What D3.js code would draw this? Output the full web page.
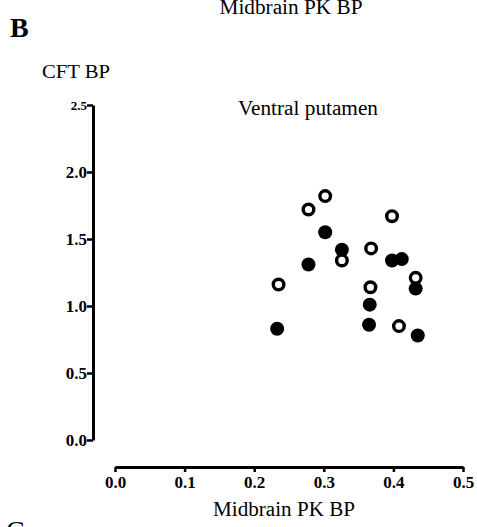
<!DOCTYPE html>
<html>
<head>
<meta charset="utf-8">
<script src="https://cdn.jsdelivr.net/npm/d3@7"></script>
<style>
  body { margin: 0; background: #fff; }
  svg { display: block; font-family: "Liberation Serif", "DejaVu Serif", serif; }
</style>
</head>
<body>
<svg id="chart" width="477" height="527"></svg>
<script>
// ventral putamen: midbrain PK BP vs CFT BP
const openPoints = [
  [0.302, 1.82], [0.278, 1.72], [0.398, 1.67], [0.368, 1.43], [0.326, 1.34],
  [0.235, 1.16], [0.432, 1.21], [0.367, 1.14], [0.408, 0.85]
]
const filledPoints = [
  [0.302, 1.55], [0.326, 1.42], [0.278, 1.31], [0.398, 1.34], [0.412, 1.35],
  [0.432, 1.13], [0.366, 1.01], [0.365, 0.86], [0.233, 0.83], [0.435, 0.78]
]
const xTicks = [0, 0.1, 0.2, 0.3, 0.4, 0.5]
const yTicks = [0, 0.5, 1.0, 1.5, 2.0, 2.5]

const svg = d3.select('#chart')

const x = d3.scaleLinear().domain([0, 0.5]).range([115, 463])
const y = d3.scaleLinear().domain([0, 2.5]).range([440, 105])
const yAxisX = 93
const xAxisY = 467

// axes
const yAxis = d3.axisLeft(y).tickValues(yTicks).tickFormat(d3.format('.1f'))
  .tickSizeInner(6).tickSizeOuter(0).tickPadding(0)
const xAxis = d3.axisBottom(x).tickValues(xTicks).tickFormat(d3.format('.1f'))
  .tickSizeInner(5).tickSizeOuter(0).tickPadding(4)

const gy = svg.append('g').attr('transform', `translate(${yAxisX},0)`).call(yAxis)
const gx = svg.append('g').attr('transform', `translate(0,${xAxisY})`).call(xAxis)

;[gy, gx].forEach((g) => {
  g.attr('font-size', null).attr('font-family', null)
  g.select('.domain').attr('stroke', '#000').attr('stroke-width', 3)
  g.selectAll('.tick line').attr('stroke', '#000').attr('stroke-width', 2.5)
  g.selectAll('.tick text')
    .attr('fill', '#000')
    .style('font-family', '"Liberation Serif", serif')
    .style('font-size', '17px')
    .style('font-weight', 'bold')
})
gy.selectAll('.tick text').filter((d) => d === 2.5).style('font-size', '13px')

// markers
svg.append('g').selectAll('circle.filled')
  .data(filledPoints)
  .join('circle')
  .attr('class', 'filled')
  .attr('cx', (d) => x(d[0]))
  .attr('cy', (d) => y(d[1]))
  .attr('r', 7)
  .attr('fill', '#000')

svg.append('g').selectAll('circle.open')
  .data(openPoints)
  .join('circle')
  .attr('class', 'open')
  .attr('cx', (d) => x(d[0]))
  .attr('cy', (d) => y(d[1]))
  .attr('r', 5.3)
  .attr('fill', '#fff')
  .attr('stroke', '#000')
  .attr('stroke-width', 3.4)

// labels
const txt = (s, px, py, size, opts = {}) => {
  const t = svg.append('text')
    .attr('x', px).attr('y', py)
    .attr('font-size', size)
    .attr('text-anchor', opts.anchor || 'start')
    .attr('font-weight', opts.weight || 'normal')
    .attr('fill', '#000')
    .text(s)
  if (opts.len) t.attr('textLength', opts.len).attr('lengthAdjust', 'spacingAndGlyphs')
  return t
}

txt('Midbrain PK BP', 291, 14, 20, { anchor: 'middle', len: 143 })
txt('B', 10, 37, 28, { weight: 'bold' })
txt('CFT BP', 42, 78, 19, { len: 68 })
txt('Ventral putamen', 238, 115, 20, { len: 140 })
txt('Midbrain PK BP', 284, 516, 20, { anchor: 'middle', len: 142 })
txt('C', 6, 540, 28)
</script>
</body>
</html>
